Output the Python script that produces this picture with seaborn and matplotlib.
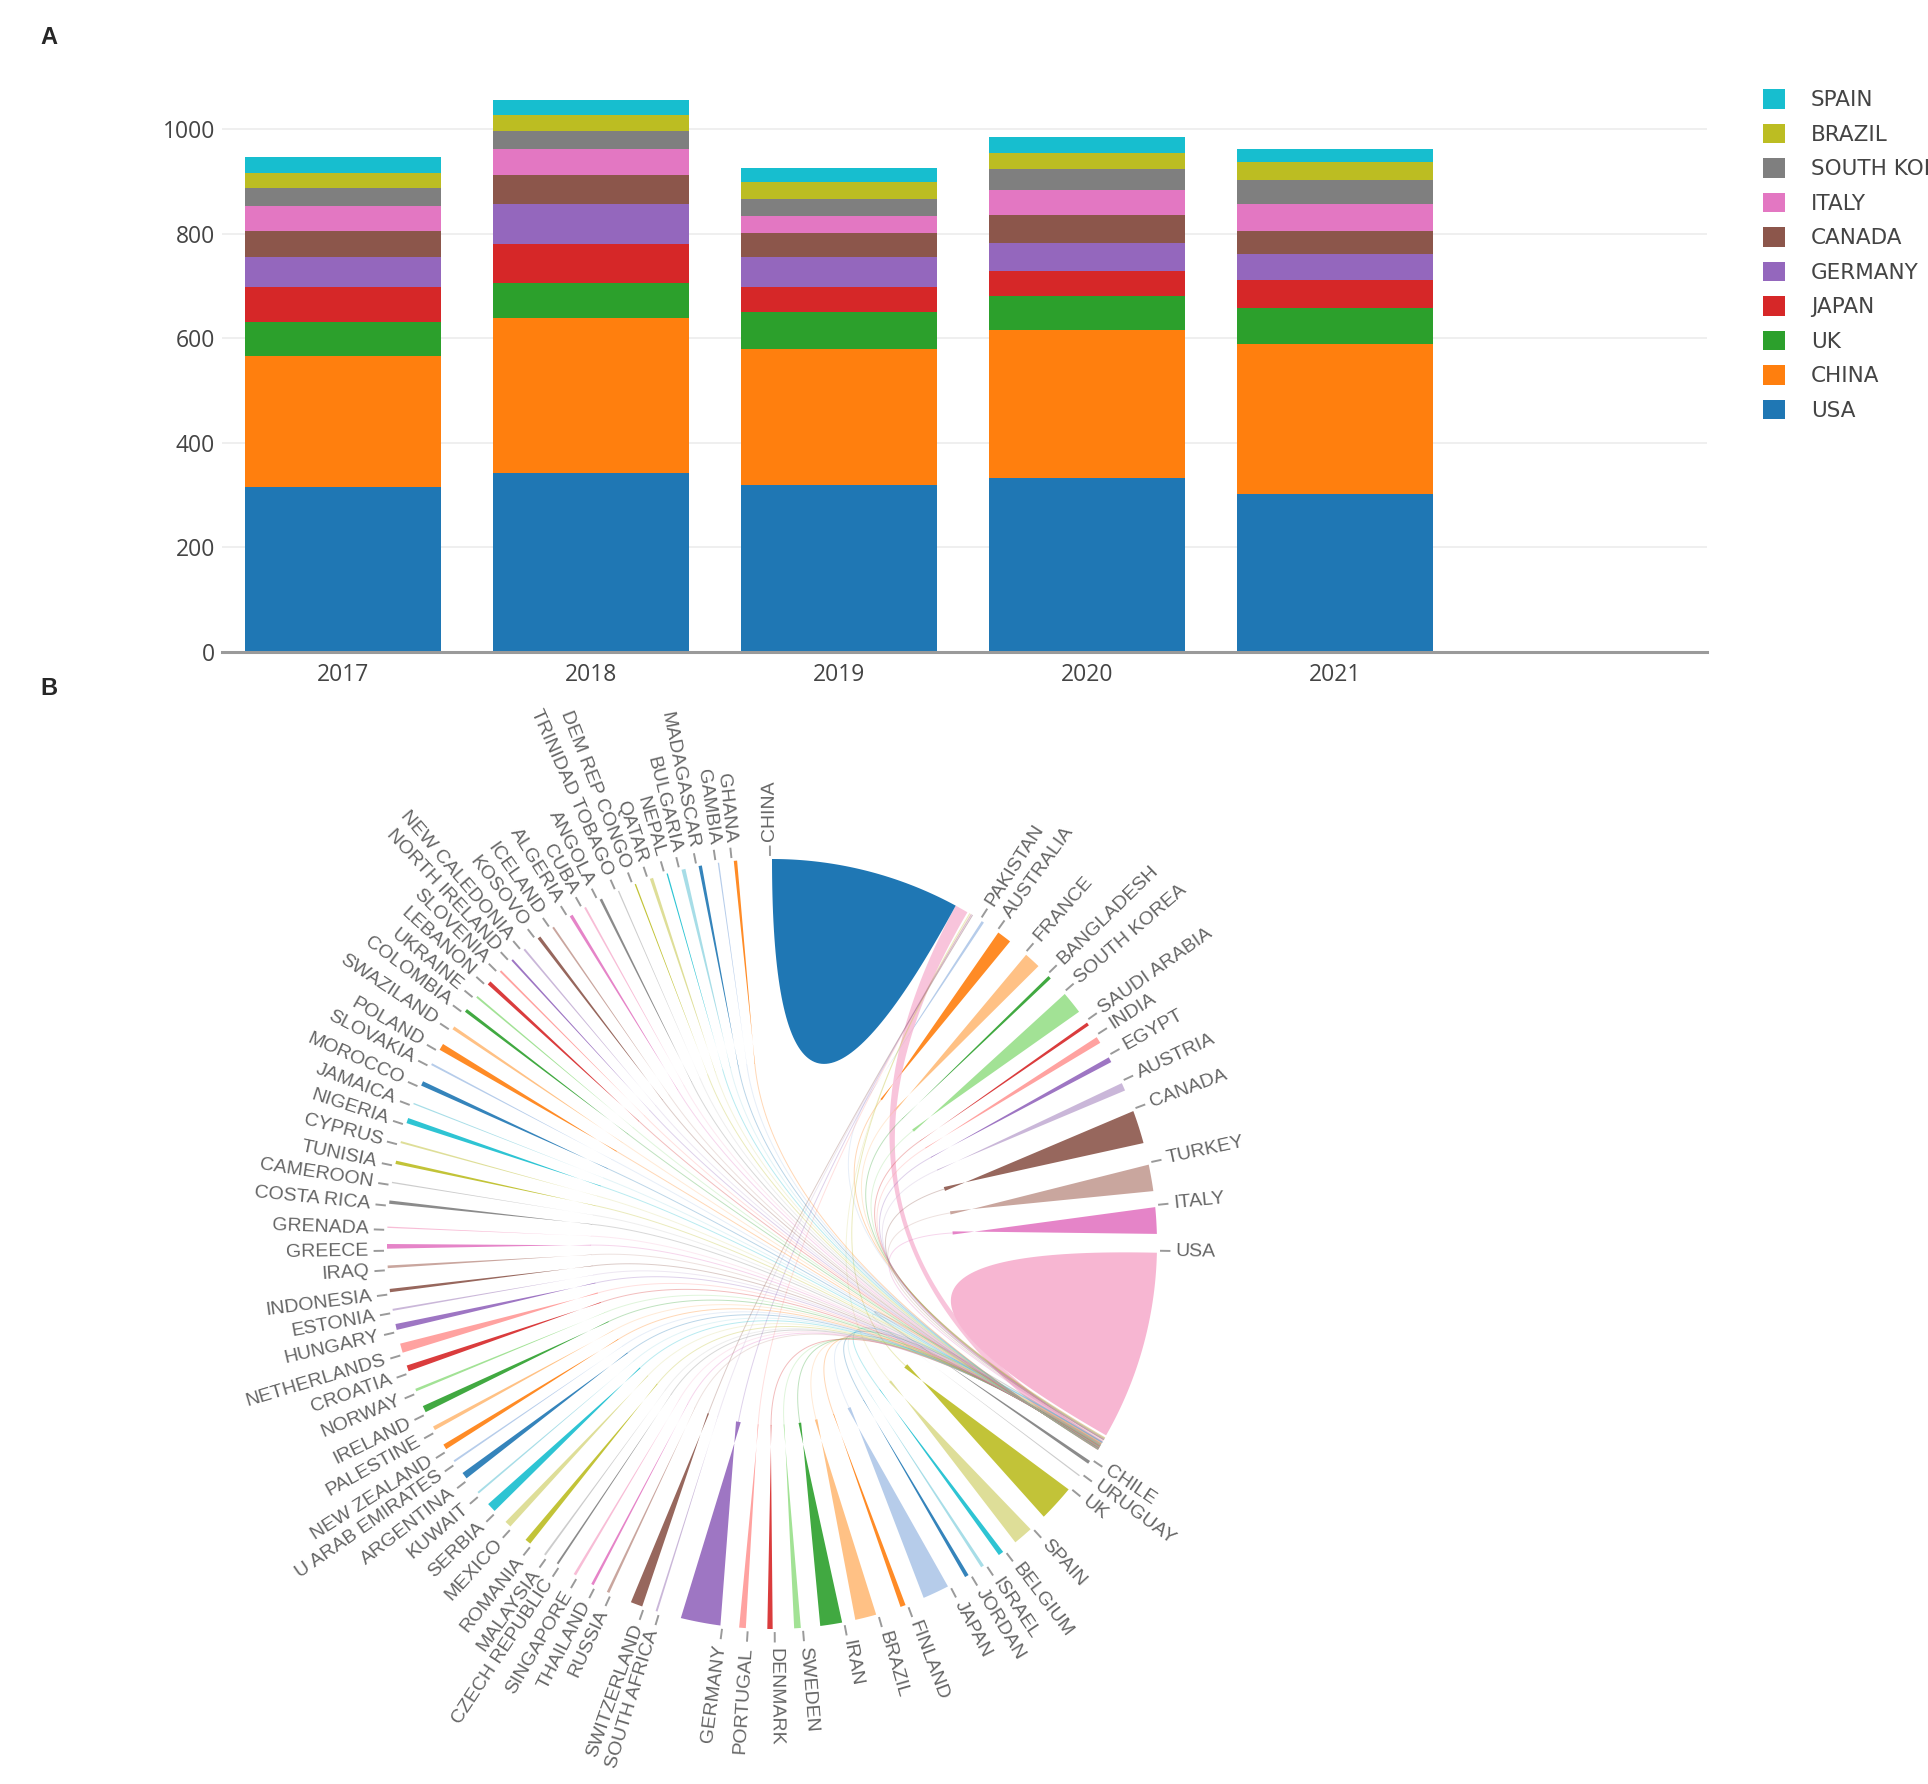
import numpy as np
import pandas as pd
import seaborn as sns
import matplotlib.pyplot as plt
from matplotlib.patches import Patch

# ---- panel A: publications per year, stacked by country ----
years = ['2017', '2018', '2019', '2020', '2021']
stack_order = ['USA', 'CHINA', 'UK', 'JAPAN', 'GERMANY', 'CANADA', 'ITALY',
               'SOUTH KOREA', 'BRAZIL', 'SPAIN']
usa = [315, 342, 318, 333, 302]
china = [250, 296, 262, 282, 287]
uk = [66, 67, 69, 66, 68]
japan = [66, 75, 48, 48, 54]
germany = [59, 77, 59, 52, 49]
canada = [49, 55, 45, 54, 45]
italy = [48, 49, 32, 49, 52]
south_korea = [35, 36, 34, 39, 45]
brazil = [28, 30, 31, 31, 35]
spain = [31, 28, 28, 31, 24]

# ---- panel B: collaboration chord, clockwise from the top ----
chord_countries = [
    'CHINA', 'PAKISTAN', 'AUSTRALIA', 'FRANCE', 'BANGLADESH', 'SOUTH KOREA',
    'SAUDI ARABIA', 'INDIA', 'EGYPT', 'AUSTRIA', 'CANADA', 'TURKEY', 'ITALY',
    'USA', 'CHILE', 'URUGUAY', 'UK', 'SPAIN', 'BELGIUM', 'ISRAEL', 'JORDAN',
    'JAPAN', 'FINLAND', 'BRAZIL', 'IRAN', 'SWEDEN', 'DENMARK', 'PORTUGAL',
    'GERMANY', 'SOUTH AFRICA', 'SWITZERLAND', 'RUSSIA', 'THAILAND',
    'SINGAPORE', 'CZECH REPUBLIC', 'MALAYSIA', 'ROMANIA', 'MEXICO', 'SERBIA',
    'KUWAIT', 'ARGENTINA', 'U ARAB EMIRATES', 'NEW ZEALAND', 'PALESTINE',
    'IRELAND', 'NORWAY', 'CROATIA', 'NETHERLANDS', 'HUNGARY', 'ESTONIA',
    'INDONESIA', 'IRAQ', 'GREECE', 'GRENADA', 'COSTA RICA', 'CAMEROON',
    'TUNISIA', 'CYPRUS', 'NIGERIA', 'JAMAICA', 'MOROCCO', 'SLOVAKIA',
    'POLAND', 'SWAZILAND', 'COLOMBIA', 'UKRAINE', 'LEBANON', 'SLOVENIA',
    'NORTH IRELAND', 'NEW CALEDONIA', 'KOSOVO', 'ICELAND', 'ALGERIA', 'CUBA',
    'ANGOLA', 'TRINIDAD TOBAGO', 'DEM REP CONGO', 'QATAR', 'NEPAL',
    'BULGARIA', 'MADAGASCAR', 'GAMBIA', 'GHANA']
sector_size = [
    31.0, 1.0, 3.3, 2.6, 1.6, 3.4,
    0.6, 1.5, 2.3, 2.5, 6.3, 4.4, 4.8,
    31.0, 0.6, 0.7, 6.2, 3.3, 1.5, 0.7, 1.5,
    4.9, 2.6, 3.2, 4.2, 2.2, 2.0, 1.8,
    7.6, 0.4, 3.3, 0.6, 1.0,
    1.1, 0.3, 0.9, 1.9, 1.3, 1.5,
    0.9, 1.0, 0.3, 1.3, 1.0,
    1.4, 1.2, 0.9, 1.5, 0.9, 0.8,
    1.6, 0.9, 1.1, 1.6, 1.1, 0.9,
    1.2, 1.1, 1.0, 1.0, 1.4, 0.6,
    1.6, 1.2, 0.7, 0.6, 0.6, 0.4,
    0.4, 0.7, 0.7, 1.1, 0.5, 0.6,
    1.0, 0.7, 0.4, 0.6, 0.3,
    0.6, 0.9, 0.4, 0.5]
link_width = [
    0.0, 0.4, 2.2, 2.5, 0.5, 3.4,
    0.5, 1.0, 0.8, 1.2, 5.0, 4.0, 4.0,
    0.0, 0.5, 0.2, 5.5, 3.0, 0.8, 0.5, 0.6,
    4.0, 0.8, 3.2, 3.3, 1.0, 0.8, 1.0,
    6.0, 0.3, 1.8, 0.4, 0.4,
    0.4, 0.3, 0.3, 0.9, 1.0, 1.4,
    0.3, 1.0, 0.3, 0.8, 0.6,
    1.0, 0.4, 0.9, 1.4, 0.9, 0.3,
    0.5, 0.4, 0.7, 0.2, 0.5, 0.2,
    0.5, 0.3, 0.8, 0.2, 0.7, 0.3,
    1.0, 0.5, 0.5, 0.3, 0.6, 0.3,
    0.3, 0.3, 0.5, 0.3, 0.5, 0.3,
    0.4, 0.2, 0.2, 0.5, 0.2,
    0.6, 0.5, 0.2, 0.5]
to_china = ['UK', 'SPAIN', 'PORTUGAL', 'GERMANY', 'SOUTH AFRICA', 'SWITZERLAND']
china_self = 28.5
usa_self = 28.5
china_usa = 2.0
usa_china = 1.5
sector_pad = 2.0

sns.set_theme(style='white')
plt.rcParams['font.family'] = ['Open Sans', 'DejaVu Sans']

fig = plt.figure(figsize=(19.28, 17.84), dpi=100)

# ---------------- panel A ----------------
ax = fig.add_axes([0.1151, 0.6347, 0.7703, 0.3223])
df = pd.DataFrame({'USA': usa, 'CHINA': china, 'UK': uk, 'JAPAN': japan,
                   'GERMANY': germany, 'CANADA': canada, 'ITALY': italy,
                   'SOUTH KOREA': south_korea, 'BRAZIL': brazil, 'SPAIN': spain},
                  index=years)
cum = df[stack_order].cumsum(axis=1)
pal = sns.color_palette('tab10', 10)
for i in reversed(range(len(stack_order))):
    sns.barplot(x=years, y=cum[stack_order[i]].values, color=pal[i],
                saturation=1, width=0.79, linewidth=0, edgecolor='none', ax=ax)

ax.set_xlim(-0.49, 5.5)
ax.set_ylim(0, 1100)
ax.set_yticks([0, 200, 400, 600, 800, 1000])
ax.yaxis.grid(True, color='#ececec', linewidth=1.2)
ax.set_axisbelow(True)
for s in ['top', 'right', 'left']:
    ax.spines[s].set_visible(False)
ax.spines['bottom'].set_color('#9a9a9a')
ax.spines['bottom'].set_linewidth(2.2)
ax.tick_params(axis='y', length=0, pad=5, labelsize=16.5, labelcolor='#444444')
ax.tick_params(axis='x', length=0, pad=8, labelsize=16.5, labelcolor='#444444')
ax.set_xlabel('')
ax.set_ylabel('')

# legend runs past the right edge of the figure, as in the original
handles = [Patch(facecolor=pal[i], edgecolor='none', label=stack_order[i])
           for i in reversed(range(len(stack_order)))]
fig.legend(handles=handles, loc='upper left', bbox_to_anchor=(0.9144, 0.950),
           frameon=False, borderpad=0, borderaxespad=0,
           prop={'family': 'DejaVu Sans', 'size': 15.5},
           handlelength=1.02, handleheight=1.02, labelspacing=0.62,
           handletextpad=1.2, labelcolor='#444444')

fig.text(49 / 1928, 1 - 37 / 1784, 'A', fontsize=17, fontweight='bold',
         family='Liberation Sans', ha='center', va='center')
fig.text(49 / 1928, 1 - 689 / 1784, 'B', fontsize=17, fontweight='bold',
         family='Liberation Sans', ha='center', va='center')

# ---------------- panel B ----------------
cx, cy, rad = 772, 1244, 385
half = 1.6 * rad
ax2 = fig.add_axes([(cx - half) / 1928, (1784 - cy - half) / 1784,
                    2 * half / 1928, 2 * half / 1784])
ax2.set_xlim(-1.6, 1.6)
ax2.set_ylim(-1.6, 1.6)
ax2.axis('off')

sizes = np.array(sector_size)
starts = np.concatenate([[0], np.cumsum(sizes + sector_pad)[:-1]])
idx = {c: k for k, c in enumerate(chord_countries)}
cols = sns.color_palette('tab20', 20)


def pt(a, r=1.0):
    t = np.radians(90 - np.asarray(a))
    return r * np.cos(t), r * np.sin(t)


def arc(a0, a1, n=40):
    x, y = pt(np.linspace(a0, a1, n))
    return np.column_stack([x, y])


def bez(a0, a1, u):
    p0 = np.array(pt(a0))
    p1 = np.array(pt(a1))
    u = u[:, None]
    return (1 - u) ** 2 * p0 + u ** 2 * p1


def ribbon(s0, s1, t0, t1, color, alpha=0.9):
    u = np.linspace(0, 1, 80)
    pts = np.vstack([arc(s0, s1), bez(s1, t0, u), arc(t0, t1), bez(t1, s0, u)])
    ax2.fill(pts[:, 0], pts[:, 1], color=color, lw=0, alpha=alpha)


def fading_ribbon(s0, s1, t, color, r_tip=0.47):
    # straight wedge from the source arc toward the centre, then a faint thread to t
    am = (s0 + s1) / 2
    tip = np.array(pt(am, r_tip))
    side = np.array(pt(am + 90, 1.0)) * 0.06 * np.radians(s1 - s0)
    pts = np.vstack([arc(s0, s1, 12), tip - side, tip + side])
    ax2.fill(pts[:, 0], pts[:, 1], color=color, lw=0, alpha=0.9)
    u = np.linspace(0, 1, 80)[:, None]
    tail = (1 - u) ** 2 * tip + u ** 2 * np.array(pt(t))
    ax2.plot(tail[:, 0], tail[:, 1], color=color, lw=0.7, alpha=0.3)


c0 = starts[idx['CHINA']]
u0 = starts[idx['USA']]
china_in = c0 + china_self + china_usa + 0.4
usa_in = u0 + usa_self + 0.4

for k, name in enumerate(chord_countries):
    if name in ('CHINA', 'USA'):
        continue
    w = link_width[k]
    s0 = starts[k]
    if name in to_china:
        t = china_in
        china_in += 0.03 * w
    else:
        t = usa_in
        usa_in += 0.03 * w
    fading_ribbon(s0, s0 + w, t, cols[k % 20])

# hub self links and the USA-CHINA link
ribbon(u0 + usa_self + 1.0, u0 + usa_self + 1.0 + usa_china,
       c0 + china_self, c0 + china_self + china_usa, cols[idx['USA'] % 20],
       alpha=0.8)
ribbon(c0, c0 + china_self / 2, c0 + china_self / 2, c0 + china_self,
       cols[idx['CHINA'] % 20], alpha=1)
ribbon(u0, u0 + usa_self / 2, u0 + usa_self / 2, u0 + usa_self,
       cols[idx['USA'] % 20], alpha=1)

# ticks and labels
for k, name in enumerate(chord_countries):
    a = starts[k] - 0.3
    xa, ya = pt([a, a], np.array([1.008, 1.035]))
    ax2.plot(xa, ya, color='#9a9a9a', lw=1.4, solid_capstyle='butt')
    xl, yl = pt(a, 1.048)
    if a < 180:
        rot, ha = 90 - a, 'left'
    else:
        rot, ha = 270 - a, 'right'
    ax2.text(xl, yl, name, rotation=rot, ha=ha, va='center',
             rotation_mode='anchor', fontsize=14, color='#666666',
             family=['Liberation Sans', 'DejaVu Sans'])

fig.savefig('out.png', dpi=100, facecolor='white')
